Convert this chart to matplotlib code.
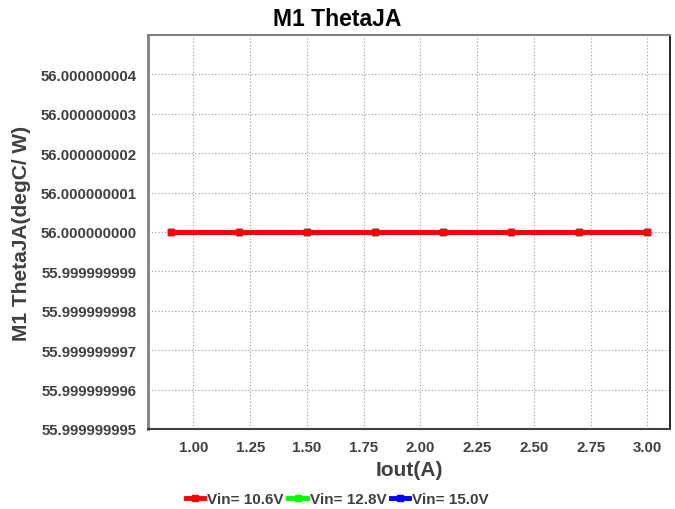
import numpy as np
import matplotlib
matplotlib.use("Agg")
import matplotlib.pyplot as plt
from matplotlib.ticker import FormatStrFormatter

plt.rcParams['font.family'] = ['Liberation Sans', 'DejaVu Sans']
plt.rcParams['font.weight'] = 'bold'

# data
iout = [0.9, 1.2, 1.5, 1.8, 2.1, 2.4, 2.7, 3.0]
theta_106 = [56.0, 56.0, 56.0, 56.0, 56.0, 56.0, 56.0, 56.0]
theta_128 = [56.0, 56.0, 56.0, 56.0, 56.0, 56.0, 56.0, 56.0]
theta_150 = [56.0, 56.0, 56.0, 56.0, 56.0, 56.0, 56.0, 56.0]
series_labels = ["Vin= 10.6V", "Vin= 12.8V", "Vin= 15.0V"]
series_colors = ["#ff0000", "#00ff00", "#0000ff"]
y_ticks = 56.0 + np.arange(-5, 5) * 1e-9
x_ticks = [1.00, 1.25, 1.50, 1.75, 2.00, 2.25, 2.50, 2.75, 3.00]

fig = plt.figure(figsize=(6.75, 5.1), dpi=100)
ax = fig.add_axes([148 / 675, 80 / 510, 522 / 675, 394 / 510])

lines = []
for vals, lab, col, z in zip([theta_106, theta_128, theta_150], series_labels, series_colors, [5, 4, 3]):
    ln, = ax.plot(iout, vals, color=col, lw=3.5, marker='s', ms=5, label=lab, zorder=z)
    lines.append(ln)

ax.set_xlim(0.8, 3.1)
ax.set_ylim(55.999999995, 56.000000005)
ax.set_xticks(x_ticks)
ax.set_yticks(y_ticks)
ax.xaxis.set_major_formatter(FormatStrFormatter('%.2f'))
ax.yaxis.set_major_formatter(FormatStrFormatter('%.9f'))
ax.tick_params(length=0, labelsize=10.8, labelcolor='#404040', pad=8)
for t in ax.get_xticklabels() + ax.get_yticklabels():
    t.set_fontweight('bold')

ax.grid(True, color='#999999', lw=0.8, ls=(0, (1, 2)))
ax.set_axisbelow(True)

ax.spines['left'].set_color('#808080')
ax.spines['left'].set_linewidth(2)
ax.spines['top'].set_color('#808080')
ax.spines['top'].set_linewidth(1.5)
ax.spines['bottom'].set_color('#404040')
ax.spines['bottom'].set_linewidth(1.5)
ax.spines['right'].set_color('black')
ax.spines['right'].set_linewidth(1.2)

ax.set_xlabel("Iout(A)", fontsize=15, fontweight='bold', color='#404040', labelpad=4)
ax.set_ylabel("M1 ThetaJA(degC/ W)", fontsize=15, fontweight='bold', color='#404040', labelpad=7)
fig.suptitle("M1 ThetaJA", fontsize=16.5, fontweight='bold', color='black', x=0.5, y=0.985)

fig.legend(handles=lines, loc='lower center', bbox_to_anchor=(0.5, -0.022), ncol=3, frameon=False,
           handlelength=1.2, handletextpad=0.2, columnspacing=0.3,
           prop={'weight': 'bold', 'size': 11}, labelcolor='#404040')

fig.savefig("out.png", dpi=100)
